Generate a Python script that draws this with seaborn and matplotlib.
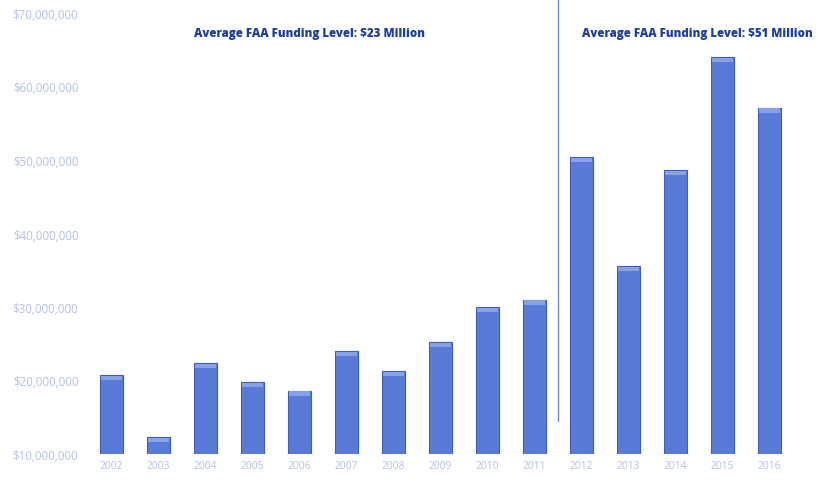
import matplotlib
matplotlib.use("Agg")
import matplotlib.pyplot as plt
import matplotlib.ticker as mticker
import seaborn as sns
import pandas as pd

# FAA funding by fiscal year (USD)
years = ["2002", "2003", "2004", "2005", "2006", "2007", "2008", "2009",
         "2010", "2011", "2012", "2013", "2014", "2015", "2016"]
funding = [20.7e6, 12.3e6, 22.4e6, 19.8e6, 18.6e6, 24.0e6, 21.3e6, 25.2e6,
           30.0e6, 31.0e6, 50.4e6, 35.6e6, 48.6e6, 64.0e6, 57.1e6]
y_ticks = [10e6, 20e6, 30e6, 40e6, 50e6, 60e6, 70e6]
period_labels = ["Average FAA Funding Level: $23 Million",
                 "Average FAA Funding Level: $51 Million"]

df = pd.DataFrame({"year": years, "funding": funding})

sns.set_theme(style="white")
plt.rcParams["font.family"] = ["Open Sans", "DejaVu Sans"]

fig = plt.figure(figsize=(8.18, 4.81), dpi=100)
ax = fig.add_axes([88 / 818, 26 / 481, 705 / 818, 441 / 481])

bar_color = "#5a7ad8"
sns.barplot(data=df, x="year", y="funding", color=bar_color, width=0.5,
            saturation=1, edgecolor="#3e5cbf", linewidth=0.8, ax=ax)

# light bevel highlight along the top of each bar
for p in list(ax.patches):
    x0, w, h = p.get_x(), p.get_width(), p.get_height()
    cap = 0.6e6
    ax.add_patch(plt.Rectangle((x0 + w * 0.06, h - cap * 1.15), w * 0.88, cap,
                               facecolor="#88a2ea", edgecolor="none", zorder=3))

ax.set_ylim(10e6, 70e6)
ax.set_xlim(-0.5, len(years) - 0.5)
ax.yaxis.set_major_locator(mticker.FixedLocator(y_ticks))
ax.yaxis.set_major_formatter(mticker.FuncFormatter(lambda v, _: f"${v:,.0f}"))
ax.set_xlabel("")
ax.set_ylabel("")
ax.tick_params(axis="both", length=0, colors="#b3c1e8")
ax.tick_params(axis="y", pad=7, labelsize=8.3)
ax.tick_params(axis="x", pad=4, labelsize=7.4)
sns.despine(ax=ax, left=True, bottom=True, top=True, right=True)
ax.grid(False)

# divider between the two funding periods
split = 9.5
ax.plot([split, split], [14.5e6, 71.9e6], color="#6f8fdc", linewidth=1.0,
        clip_on=False)

ax.text(4.22, 67.3e6, period_labels[0], ha="center", va="center",
        fontsize=8.3, fontweight="heavy", color="#1f3f99")
ax.text(12.47, 67.3e6, period_labels[1], ha="center", va="center",
        fontsize=8.3, fontweight="heavy", color="#1f3f99")

fig.savefig("out.png", dpi=100, facecolor="white")
